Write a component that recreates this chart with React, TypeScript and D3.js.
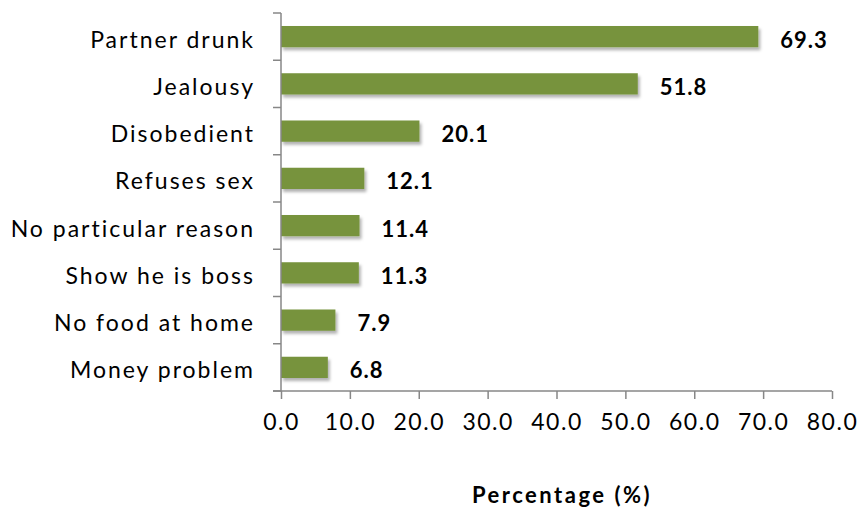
import React, { useEffect, useRef } from 'react';
import * as d3 from 'd3';

// Reasons and percentages, top to bottom
const reasons = [
  'Partner drunk',
  'Jealousy',
  'Disobedient',
  'Refuses sex',
  'No particular reason',
  'Show he is boss',
  'No food at home',
  'Money problem',
];
const percentages = [69.3, 51.8, 20.1, 12.1, 11.4, 11.3, 7.9, 6.8];
const xTicks = [0, 10, 20, 30, 40, 50, 60, 70, 80];
const axisTitle = 'Percentage (%)';

const App: React.FC = () => {
  const svgRef = useRef<SVGSVGElement>(null);

  useEffect(() => {
    if (!svgRef.current) return;
    const svg = d3.select(svgRef.current);
    svg.selectAll('*').remove();

    const font = 'Lato, "Open Sans", sans-serif';
    const axisColor = '#878787';
    const left = 281;
    const right = 832;
    const top = 13;
    const bottom = 391;

    const x = d3.scaleLinear().domain([0, 80]).range([left, right]);
    const y = d3.scaleBand<string>().domain(reasons).range([top, bottom]).paddingInner(0.55).paddingOuter(0.275);

    const defs = svg.append('defs');
    const filter = defs.append('filter').attr('id', 'shadow')
      .attr('x', '-5%').attr('y', '-20%').attr('width', '120%').attr('height', '180%');
    filter.append('feDropShadow')
      .attr('dx', 2).attr('dy', 3).attr('stdDeviation', 1.8)
      .attr('flood-color', '#000').attr('flood-opacity', 0.3);

    // Bars
    svg.selectAll('.bar')
      .data(percentages)
      .enter()
      .append('rect')
      .attr('class', 'bar')
      .attr('x', x(0))
      .attr('y', (_d, i) => y(reasons[i]) as number)
      .attr('width', (d) => x(d) - x(0))
      .attr('height', y.bandwidth())
      .attr('fill', '#77933c')
      .attr('filter', 'url(#shadow)');

    // Value labels
    svg.selectAll('.val')
      .data(percentages)
      .enter()
      .append('text')
      .attr('class', 'val')
      .attr('x', (d) => x(d) + 22)
      .attr('y', (_d, i) => (y(reasons[i]) as number) + y.bandwidth() / 2)
      .attr('dy', '0.5em')
      .attr('font-family', font)
      .attr('font-size', 22)
      .attr('font-weight', 'bold')
      .attr('letter-spacing', 1)
      .attr('fill', '#000')
      .text((d) => d.toFixed(1));

    // Y axis line and ticks at band boundaries
    const yAxis = svg.append('g');
    yAxis.append('line')
      .attr('x1', left).attr('x2', left).attr('y1', top).attr('y2', bottom)
      .attr('stroke', axisColor).attr('stroke-width', 1.5);
    const step = y.step();
    d3.range(reasons.length + 1).forEach((i) => {
      yAxis.append('line')
        .attr('x1', left - 8).attr('x2', left)
        .attr('y1', top + i * step).attr('y2', top + i * step)
        .attr('stroke', axisColor).attr('stroke-width', 1.5);
    });

    // Category labels
    svg.selectAll('.cat')
      .data(reasons)
      .enter()
      .append('text')
      .attr('class', 'cat')
      .attr('x', left - 26)
      .attr('y', (d) => (y(d) as number) + y.bandwidth() / 2)
      .attr('dy', '0.48em')
      .attr('text-anchor', 'end')
      .attr('font-family', font)
      .attr('font-size', 23)
      .attr('letter-spacing', 2)
      .attr('fill', '#000')
      .text((d) => d);

    // X axis
    const xAxis = d3.axisBottom(x)
      .tickValues(xTicks)
      .tickSize(8)
      .tickPadding(15)
      .tickFormat((d: any) => (+d).toFixed(1));
    const gx = svg.append('g')
      .attr('transform', `translate(0,${bottom})`)
      .call(xAxis);
    gx.select('.domain').attr('stroke', axisColor).attr('stroke-width', 1.5)
      .attr('d', `M${left - 8},0H${right}`);
    gx.selectAll('.tick line').attr('stroke', axisColor).attr('stroke-width', 1.5);
    gx.selectAll('.tick text')
      .attr('font-family', font)
      .attr('font-size', 23)
      .attr('letter-spacing', 1.5)
      .attr('fill', '#000');

    // Axis title
    svg.append('text')
      .attr('x', 562)
      .attr('y', 503)
      .attr('text-anchor', 'middle')
      .attr('font-family', font)
      .attr('font-size', 22)
      .attr('font-weight', 'bold')
      .attr('letter-spacing', 2.5)
      .attr('fill', '#000')
      .text(axisTitle);
  }, []);

  return (
    <svg
      ref={svgRef}
      width={862}
      height={512}
      style={{ position: 'absolute', left: 0, top: 0, background: '#fff' }}
    />
  );
};

export default App;
